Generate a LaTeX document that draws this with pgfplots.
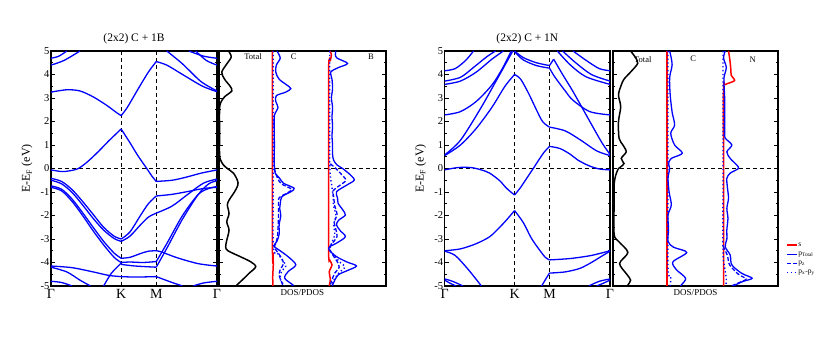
\documentclass[border=0pt]{standalone}
\usepackage{fontspec}
\setmainfont{Liberation Serif}
\usepackage{pgfplots}
\pgfplotsset{compat=1.18}
\pgfplotsset{
  common/.style={scale only axis, height=235pt, ymin=-5, ymax=5,
    axis line style={line width=1.2pt},
    tick style={black, line width=0.8pt},
    major tick length=4pt, minor tick length=2.2pt,
    tick align=inside,
    ytick={-5,...,5}, minor ytick={-4.5,-3.5,...,4.5},
    ytick pos=both},
  band/.style={common, xmin=0, xmax=3.1547,
    xtick={0,1.3333,2,3.1547}, xticklabels={Γ,K,M,Γ},
    xtick style={draw=none},
    x tick label style={font=\fontsize{14}{14}\selectfont, inner sep=1pt, yshift=-2.5pt},
    yticklabels={-5,-4,-3,-2,-1,0,1,2,3,4,5},
    yticklabel pos=left,
    y tick label style={font=\fontsize{10.5}{11}\selectfont, inner sep=1.5pt},
    ylabel={E-E\textsubscript{F} (eV)},
    ylabel style={font=\fontsize{12}{13}\selectfont, yshift=3pt},
    title style={font=\fontsize{11.5}{12}\selectfont, yshift=-2pt}},
  dos/.style={common, xmin=0, xmax=3, xtick=\empty, yticklabels={},
    xlabel={DOS/PDOS},
    xlabel style={font=\fontsize{9}{10}\selectfont, yshift=-0.5pt}},
  bl/.style={blue, line width=1.3pt, smooth},
  zl/.style={black, line width=0.9pt, dash pattern=on 4pt off 3pt},
  tot/.style={black, line width=1.5pt, smooth},
  ss/.style={red, line width=1.5pt, smooth},
  pt/.style={blue, line width=1.3pt, smooth},
  pzs/.style={blue, line width=1.3pt, smooth, dash pattern=on 4pt off 2pt},
  pxy/.style={blue, line width=1.4pt, smooth, dash pattern=on 1.3pt off 2.5pt},
}
\begin{document}
\begin{tikzpicture}
\path[use as bounding box] (0,0) rectangle (830pt,337pt);

% ---------------- Left band structure: C + 1B ----------------
\begin{axis}[band, at={(51pt,51pt)}, anchor=south west, width=166pt,
  title={(2x2) C + 1B}]
\addplot[zl] coordinates {(0,0) (3.1547,0)};
\addplot[zl] coordinates {(1.3333,-5) (1.3333,5)};
\addplot[zl] coordinates {(2,-5) (2,5)};
% conduction
\addplot[bl] coordinates {(0,-0.06)(0.2,-0.13)(0.35,-0.1)(0.52,0.0)(0.7,0.3)(0.9,0.72)(1.1,1.18)(1.3333,1.68)};
\addplot[bl] coordinates {(1.3333,1.68)(1.5,1.1)(1.65,0.55)(1.82,0.0)(1.92,-0.33)(2.0,-0.55)};
\addplot[bl] coordinates {(2,-0.55)(2.3,-0.5)(2.55,-0.38)(2.85,-0.2)(3.1547,-0.06)};
\addplot[bl] coordinates {(0,3.25)(0.3,3.35)(0.55,3.3)(0.8,3.05)(1.05,2.7)(1.25,2.37)(1.3333,2.25)};
\addplot[bl] coordinates {(1.3333,2.25)(1.45,2.6)(1.66,3.4)(1.85,4.1)(2.0,4.55)};
\addplot[bl] coordinates {(2,4.55)(2.2,4.4)(2.5,4.0)(2.88,3.5)(3.1547,3.27)};
\addplot[bl] coordinates {(2.2,5.0)(2.5,4.45)(2.85,3.7)(3.1547,3.3)};
\addplot[bl] coordinates {(2.62,5.0)(2.9,4.78)(3.1547,4.69)};
\addplot[bl] coordinates {(2.75,5.0)(2.95,4.6)(3.1547,4.4)};
\addplot[bl] coordinates {(0,4.69)(0.15,4.78)(0.3,5.0)};
\addplot[bl] coordinates {(0,4.4)(0.25,4.6)(0.55,5.0)};
% valence
\addplot[bl] coordinates {(0,-0.42)(0.2,-0.55)(0.4,-0.9)(0.6,-1.4)(0.8,-1.95)(1.0,-2.5)(1.2,-2.88)(1.3333,-3.0)};
\addplot[bl] coordinates {(0,-0.5)(0.2,-0.65)(0.4,-1.02)(0.6,-1.55)(0.8,-2.12)(1.0,-2.62)(1.2,-2.98)(1.3333,-3.1)};
\addplot[bl] coordinates {(0,-0.74)(0.2,-0.88)(0.4,-1.3)(0.6,-1.88)(0.8,-2.5)(1.0,-3.1)(1.2,-3.6)(1.3333,-3.82)};
\addplot[bl] coordinates {(0,-0.8)(0.2,-0.95)(0.4,-1.4)(0.6,-2.0)(0.8,-2.65)(1.0,-3.25)(1.2,-3.78)(1.3333,-4.0)};
\addplot[bl] coordinates {(1.3333,-3.0)(1.5,-2.7)(1.7,-2.0)(1.85,-1.5)(2.0,-1.17)};
\addplot[bl] coordinates {(1.3333,-3.1)(1.5,-2.88)(1.7,-2.4)(1.85,-2.07)(2.0,-1.9)};
\addplot[bl] coordinates {(1.3333,-3.82)(1.5,-3.78)(1.7,-3.62)(1.85,-3.52)(2.0,-3.5)};
\addplot[bl] coordinates {(1.3333,-4.0)(1.5,-3.98)(1.75,-4.0)(2.0,-3.96)};
\addplot[bl] coordinates {(1.3333,-4.08)(1.6,-4.15)(2.0,-4.2)};
\addplot[bl] coordinates {(1.0,-5.0)(1.15,-4.45)(1.3333,-4.03)};
\addplot[bl] coordinates {(1.3333,-4.6)(1.6,-4.62)(2.0,-4.6)};
\addplot[bl] coordinates {(2.0,-1.17)(2.3,-1.1)(2.6,-0.98)(2.9,-0.85)(3.1547,-0.8)};
\addplot[bl] coordinates {(2.0,-1.9)(2.3,-1.6)(2.6,-1.1)(2.9,-0.62)(3.1547,-0.45)};
\addplot[bl] coordinates {(2.0,-3.5)(2.1,-3.55)(2.4,-3.8)(2.8,-4.05)(3.1547,-4.15)};
\addplot[bl] coordinates {(2.0,-3.96)(2.2,-3.2)(2.5,-2.0)(2.8,-1.1)(3.0,-0.85)(3.1547,-0.77)};
\addplot[bl] coordinates {(2.0,-4.2)(2.2,-3.4)(2.5,-2.15)(2.8,-1.1)(3.0,-0.65)(3.1547,-0.52)};
\addplot[bl] coordinates {(2.0,-4.6)(2.3,-4.85)(2.5,-5.0)};
\addplot[bl] coordinates {(0,-4.15)(0.4,-4.22)(0.8,-4.4)(1.1,-4.55)(1.3333,-4.6)};
\addplot[bl] coordinates {(0,-4.2)(0.3,-4.4)(0.55,-4.75)(0.75,-5.0)};
\addplot[bl] coordinates {(0,-4.8)(0.2,-4.85)(0.4,-5.0)};
\addplot[bl] coordinates {(3.1547,-4.8)(2.9,-4.87)(2.7,-5.0)};
\end{axis}

% ---------------- Left DOS ----------------
\begin{axis}[dos, at={(219pt,51pt)}, anchor=south west, width=167pt]
\addplot[zl] coordinates {(0,0) (3,0)};
\addplot[tot] coordinates {(0.17,5.0)(0.22,4.75)(0.14,4.45)(0.05,4.1)(0.1,3.8)(0.2,3.5)(0.23,3.3)(0.1,3.05)(0.03,2.8)(0.01,2.5)(0.01,1.5)(0.01,0.6)(0.03,0.35)(0.08,0.15)(0.15,0.0)(0.26,-0.2)(0.33,-0.5)(0.34,-0.7)(0.28,-0.99)(0.18,-1.35)(0.15,-1.56)(0.18,-1.92)(0.14,-2.27)(0.18,-2.62)(0.14,-3.05)(0.12,-3.33)(0.16,-3.5)(0.39,-3.76)(0.57,-3.97)(0.66,-4.18)(0.54,-4.46)(0.42,-4.74)(0.32,-4.96)(0.31,-5.0)};
% C column
\addplot[ss] coordinates {(0.96,5)(0.96,-3.2)(0.97,-3.6)(0.975,-4.1)(0.965,-4.6)(0.97,-5)};
\addplot[pt] coordinates {(1.04,5.0)(1.10,4.7)(1.03,4.4)(1.02,4.1)(1.08,3.8)(1.22,3.55)(1.29,3.4)(1.2,3.25)(1.03,3.1)(1.02,2.85)(1.06,2.6)(1.0,2.3)(0.99,2.0)(0.995,1.0)(0.99,0.3)(1.0,0.0)(1.01,-0.2)(1.09,-0.42)(1.16,-0.63)(1.35,-0.84)(1.29,-0.99)(1.13,-1.2)(1.1,-1.5)(1.09,-1.7)(1.11,-2.0)(1.08,-2.4)(1.08,-2.8)(1.04,-3.1)(0.985,-3.3)(1.08,-3.47)(1.24,-3.75)(1.38,-4.1)(1.24,-4.39)(1.18,-4.67)(1.33,-4.96)(1.3,-5.0)};
\addplot[pzs] coordinates {(0.99,0.0)(1.05,-0.4)(1.12,-0.65)(1.3,-0.88)(1.22,-1.05)(1.08,-1.25)(1.07,-1.6)(1.07,-2.0)(1.06,-2.5)(1.05,-2.9)(1.02,-3.2)(0.99,-3.35)(1.05,-3.55)(1.12,-3.8)(1.16,-4.05)(1.1,-4.3)(1.08,-4.55)(1.12,-4.8)(1.15,-5.0)};
\addplot[pxy] coordinates {(0.975,5)(0.975,0)(0.975,-3.3)(1.05,-3.6)(1.14,-3.9)(1.2,-4.15)(1.12,-4.4)(1.1,-4.7)(1.18,-5.0)};
% B column
\addplot[ss] coordinates {(1.99,5.0)(2.02,4.85)(2.0,4.6)(1.97,4.3)(1.97,0)(1.97,-3.6)(1.99,-3.9)(2.03,-4.1)(1.98,-4.4)(2.0,-4.7)(1.98,-5)};
\addplot[pt] coordinates {(2.10,5.0)(2.09,4.85)(2.12,4.7)(2.31,4.47)(2.15,4.3)(2.01,4.11)(2.03,3.8)(2.04,3.4)(2.02,3.0)(2.04,2.6)(2.03,2.2)(2.04,1.8)(2.03,1.4)(2.04,1.0)(2.04,0.6)(2.06,0.35)(2.12,0.15)(2.22,0.0)(2.35,-0.25)(2.43,-0.49)(2.3,-0.7)(2.11,-0.99)(2.13,-1.25)(2.14,-1.48)(2.22,-1.75)(2.27,-1.98)(2.15,-2.2)(2.11,-2.4)(2.18,-2.65)(2.27,-2.9)(2.13,-3.15)(1.99,-3.33)(1.98,-3.47)(2.11,-3.75)(2.3,-3.98)(2.47,-4.15)(2.3,-4.35)(2.14,-4.53)(2.05,-4.9)(2.04,-5.0)};
\addplot[pzs] coordinates {(2.0,0.2)(2.1,0.0)(2.2,-0.25)(2.28,-0.5)(2.18,-0.7)(2.05,-0.95)(2.06,-1.2)(2.08,-1.6)(2.12,-1.95)(2.07,-2.3)(2.1,-2.6)(2.12,-2.9)(2.03,-3.2)(1.98,-3.4)(2.05,-3.7)(2.12,-3.95)(2.16,-4.2)(2.08,-4.45)(2.02,-4.8)(2.0,-5.0)};
\addplot[pxy] coordinates {(1.99,5)(1.99,2)(1.99,0.3)(2.0,-0.3)(2.03,-0.8)(2.05,-1.2)(2.06,-1.6)(2.1,-2.0)(2.06,-2.4)(2.08,-2.8)(2.02,-3.2)(1.99,-3.45)(2.08,-3.75)(2.18,-4.0)(2.26,-4.2)(2.15,-4.45)(2.05,-4.8)(2.02,-5.0)};
\node[font=\fontsize{8.5}{9}\selectfont] at (axis cs:0.61,4.77) {Total};
\node[font=\fontsize{8.5}{9}\selectfont] at (axis cs:1.34,4.77) {C};
\node[font=\fontsize{8.5}{9}\selectfont] at (axis cs:2.73,4.77) {B};
\end{axis}

% ---------------- Right band structure: C + 1N ----------------
\begin{axis}[band, at={(444.7pt,51pt)}, anchor=south west, width=165.3pt,
  title={(2x2) C + 1N}]
\addplot[zl] coordinates {(0,0) (3.1547,0)};
\addplot[zl] coordinates {(1.3333,-5) (1.3333,5)};
\addplot[zl] coordinates {(2,-5) (2,5)};
\addplot[bl] coordinates {(0,-0.06)(0.25,0.04)(0.5,0.04)(0.7,-0.06)(0.86,-0.2)(1.05,-0.52)(1.18,-0.84)(1.3333,-1.13)};
\addplot[bl] coordinates {(1.3333,-1.13)(1.45,-0.8)(1.57,-0.4)(1.69,0.0)(1.8,0.38)(1.9,0.7)(2.0,0.94)};
\addplot[bl] coordinates {(2,0.94)(2.2,0.85)(2.4,0.6)(2.54,0.36)(2.75,0.12)(2.95,-0.02)(3.1547,-0.06)};
\addplot[bl] coordinates {(0,0.55)(0.3,1.0)(0.6,1.7)(0.9,2.6)(1.15,3.5)(1.3333,4.0)};
\addplot[bl] coordinates {(1.3333,4.0)(1.45,3.8)(1.6,3.2)(1.75,2.5)(1.87,1.99)(2.0,1.76)};
\addplot[bl] coordinates {(2,1.76)(2.3,1.6)(2.6,1.2)(2.9,0.75)(3.1547,0.55)};
\addplot[bl] coordinates {(0,0.58)(0.3,1.2)(0.67,2.5)(0.95,3.6)(1.15,4.4)(1.3,5.0)};
\addplot[bl] coordinates {(0,2.28)(0.3,2.42)(0.6,2.85)(0.9,3.55)(1.1,4.25)(1.27,5.0)};
\addplot[bl] coordinates {(0,3.58)(0.3,3.72)(0.6,4.1)(0.9,4.65)(1.12,5.0)};
\addplot[bl] coordinates {(0,3.72)(0.3,3.88)(0.55,4.3)(0.8,4.75)(0.97,5.0)};
\addplot[bl] coordinates {(0,4.16)(0.2,4.25)(0.4,4.6)(0.55,5.0)};
\addplot[bl] coordinates {(1.3333,5.0)(1.5,4.72)(1.75,4.5)(2.0,4.38)};
\addplot[bl] coordinates {(1.3333,4.97)(1.5,4.62)(1.75,4.38)(2.0,4.27)};
\addplot[bl] coordinates {(2.0,4.27)(2.1,3.9)(2.3,3.3)(2.45,2.9)(2.77,2.42)(3.1547,2.28)};
\addplot[blue, line width=1.3pt] coordinates {(2.0,4.38)(2.08,4.65)};
\addplot[bl] coordinates {(2.08,4.65)(2.25,4.0)(2.45,3.27)(2.77,2.0)(3.0,1.1)(3.1547,0.6)};
\addplot[bl] coordinates {(2.15,5.0)(2.4,4.4)(2.7,3.9)(3.1547,3.58)};
\addplot[bl] coordinates {(2.25,5.0)(2.5,4.5)(2.8,4.0)(3.1547,3.72)};
\addplot[bl] coordinates {(2.45,5.0)(2.7,4.6)(2.95,4.25)(3.1547,4.16)};
% valence
\addplot[bl] coordinates {(0,-3.5)(0.3,-3.42)(0.6,-3.2)(0.86,-2.9)(1.05,-2.5)(1.18,-2.19)(1.3333,-1.79)};
\addplot[bl] coordinates {(1.3333,-1.79)(1.5,-2.3)(1.65,-2.95)(1.81,-3.47)(1.92,-3.78)(2.0,-3.89)};
\addplot[bl] coordinates {(2,-3.89)(2.4,-3.83)(2.8,-3.7)(3.1547,-3.5)};
\addplot[bl] coordinates {(2.0,-4.45)(2.3,-4.4)(2.58,-4.25)(2.8,-4.0)(2.96,-3.78)(3.1547,-3.52)};
\addplot[bl] coordinates {(2.0,-4.45)(1.93,-4.7)(1.85,-5.0)};
\addplot[bl] coordinates {(0,-3.52)(0.2,-3.7)(0.45,-4.3)(0.7,-5.0)};
\addplot[bl] coordinates {(0,-4.7)(0.15,-4.8)(0.35,-5.0)};
\addplot[bl] coordinates {(0,-4.75)(0.1,-4.88)(0.22,-5.0)};
\addplot[bl] coordinates {(3.1547,-4.7)(2.95,-4.8)(2.75,-5.0)};
\addplot[bl] coordinates {(3.1547,-4.75)(3.03,-4.88)(2.9,-5.0)};
\end{axis}

% ---------------- Right DOS ----------------
\begin{axis}[dos, at={(613pt,51pt)}, anchor=south west, width=165pt,
  legend image code/.code={\draw[#1] (0pt,0pt) -- (10pt,0pt);},
  legend style={at={(1,0)}, anchor=south west, xshift=5pt, yshift=8pt,
    draw=none, fill=none, font=\fontsize{7.5}{8}\selectfont, row sep=2.5pt,
    nodes={inner sep=0.8pt}},
  legend cell align=left]
\addlegendimage{red, line width=1.3pt}\addlegendentry{s}
\addlegendimage{blue, line width=1.3pt}\addlegendentry{p\textsubscript{Total}}
\addlegendimage{blue, line width=1.3pt, dash pattern=on 4pt off 2pt}\addlegendentry{p\textsubscript{z}}
\addlegendimage{blue, line width=1.4pt, dash pattern=on 1.3pt off 2.5pt}\addlegendentry{p\textsubscript{x}-p\textsubscript{y}}
\addplot[zl, forget plot] coordinates {(0,0) (3,0)};
\addplot[tot, forget plot] coordinates {(0.32,5.0)(0.4,4.75)(0.45,4.48)(0.33,4.13)(0.2,3.8)(0.15,3.55)(0.1,3.13)(0.14,2.63)(0.1,2.0)(0.11,1.29)(0.18,1.0)(0.24,0.71)(0.15,0.43)(0.2,0.21)(0.14,0.07)(0.1,0.0)(0.05,-0.28)(0.02,-0.7)(0.02,-1.5)(0.02,-2.8)(0.1,-3.1)(0.27,-3.57)(0.12,-4.04)(0.25,-4.5)(0.32,-4.75)(0.27,-4.96)(0.26,-5)};
% C column
\addplot[ss, forget plot] coordinates {(0.985,5)(0.985,0)(0.985,-5)};
\addplot[pt, forget plot] coordinates {(1.03,5.0)(1.075,4.43)(1.03,3.87)(1.04,3.13)(1.075,2.4)(1.12,1.85)(1.05,1.5)(1.12,1.0)(1.26,0.65)(1.06,0.43)(1.01,0.21)(1.03,0.0)(1.0,-0.42)(1.02,-1.0)(1.06,-1.55)(1.0,-1.98)(1.01,-2.6)(1.0,-3.1)(1.1,-3.35)(1.34,-3.57)(1.09,-3.97)(1.15,-4.3)(1.32,-4.67)(1.24,-4.96)(1.22,-5.0)};
\addplot[pxy, forget plot] coordinates {(1.0,5)(1.0,0)(1.0,-4.2)(1.05,-4.6)(1.04,-5)};
% N column
\addplot[ss, forget plot] coordinates {(2.10,5.0)(2.12,4.7)(2.14,4.3)(2.15,3.96)(2.21,3.74)(2.04,3.57)(2.01,3.4)(2.01,0)(2.01,-5.0)};
\addplot[pt, forget plot] coordinates {(2.04,5.0)(2.01,4.7)(2.06,4.3)(2.02,3.9)(2.02,3.5)(2.03,3.0)(2.03,2.0)(2.03,1.5)(2.04,1.29)(2.16,1.0)(2.07,0.71)(2.13,0.43)(2.25,0.15)(2.28,0.0)(2.13,-0.2)(2.07,-0.42)(2.08,-0.8)(2.1,-1.27)(2.07,-1.7)(2.09,-2.12)(2.07,-2.6)(2.07,-3.0)(2.04,-3.33)(2.13,-3.68)(2.16,-4.1)(2.34,-4.46)(2.53,-4.67)(2.37,-4.8)(2.22,-4.96)(2.2,-5.0)};
\addplot[pzs, forget plot] coordinates {(2.0,-3.3)(2.08,-3.7)(2.12,-4.1)(2.28,-4.5)(2.42,-4.7)(2.3,-4.85)(2.15,-5.0)};
\addplot[pxy, forget plot] coordinates {(2.0,5.0)(2.0,0)(2.0,-3.5)(2.03,-4.2)(2.06,-4.7)(2.05,-5.0)};
\node[font=\fontsize{8.5}{9}\selectfont] at (axis cs:0.54,4.65) {Total};
\node[font=\fontsize{8.5}{9}\selectfont] at (axis cs:1.46,4.65) {C};
\node[font=\fontsize{8.5}{9}\selectfont] at (axis cs:2.54,4.65) {N};
\end{axis}
\end{tikzpicture}
\end{document}
